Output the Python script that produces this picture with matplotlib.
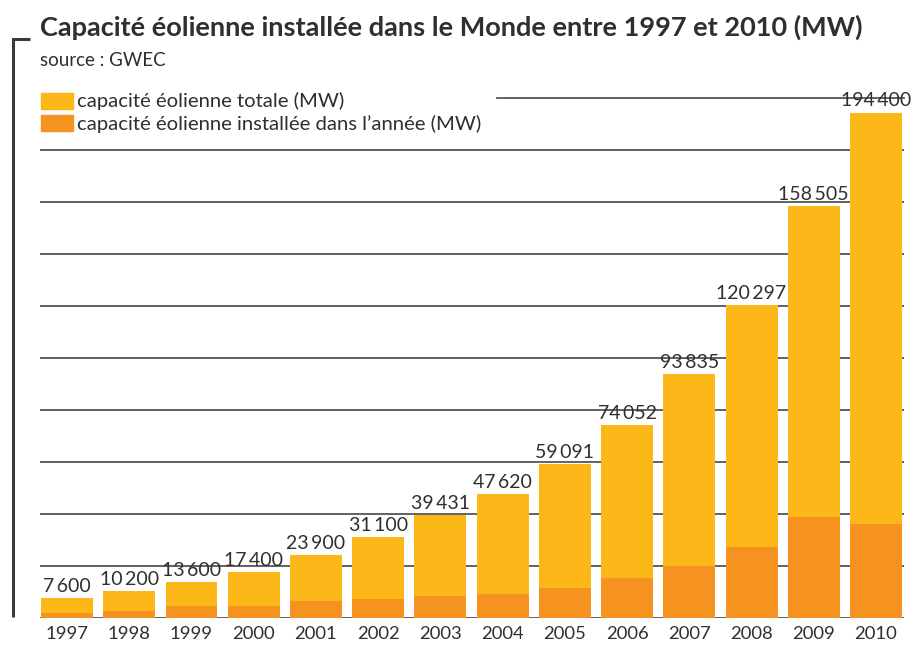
import matplotlib
matplotlib.use("Agg")
import matplotlib.pyplot as plt
from matplotlib.lines import Line2D
from matplotlib.patches import Rectangle

years = ["1997", "1998", "1999", "2000", "2001", "2002", "2003", "2004",
         "2005", "2006", "2007", "2008", "2009", "2010"]
total_mw = [7600, 10200, 13600, 17400, 23900, 31100, 39431, 47620,
            59091, 74052, 93835, 120297, 158505, 194400]
annual_mw = [1800, 2500, 4400, 4400, 6400, 7000, 8300, 8900,
             11500, 15300, 19800, 27000, 38600, 36100]
total_labels = ["7\u2009600", "10\u2009200", "13\u2009600", "17\u2009400", "23\u2009900",
                "31\u2009100", "39\u2009431", "47\u2009620", "59\u2009091", "74\u2009052",
                "93\u2009835", "120\u2009297", "158\u2009505", "194\u2009400"]
grid_levels = [0, 20000, 40000, 60000, 80000, 100000, 120000, 140000, 160000, 180000]
top_level = 200000

title = "Capacité éolienne installée dans le Monde entre 1997 et 2010 (MW)"
source = "source : GWEC"
legend_total = "capacité éolienne totale (MW)"
legend_annual = "capacité éolienne installée dans l\u2019année (MW)"

C_TOTAL = "#FBB818"
C_ANNUAL = "#F6921F"
C_TEXT = "#2f2f2f"
C_GRID = "#555555"

plt.rcParams['font.family'] = ['Lato', 'DejaVu Sans']

W, H = 911, 646
fig = plt.figure(figsize=(W / 100, H / 100), dpi=100)
ax = fig.add_axes([40 / W, 1 - 617.5 / H, (904 - 40) / W, (617.5 - 98) / H])

x = list(range(len(years)))
ax.set_xlim(-0.435, 13.45)
ax.set_ylim(0, top_level)

for g in grid_levels:
    ax.axhline(g, color=C_GRID, lw=1.3, zorder=0)
ax.axhline(top_level, xmin=(497 - 40) / (904 - 40), xmax=1, color=C_GRID, lw=1.3, zorder=0,
           clip_on=False)

ax.bar(x, total_mw, width=0.835, color=C_TOTAL, zorder=2, linewidth=0)
ax.bar(x, annual_mw, width=0.835, color=C_ANNUAL, zorder=3, linewidth=0)

for xi, v, lab in zip(x, total_mw, total_labels):
    ax.text(xi, v + 1200, lab, ha='center', va='bottom', fontsize=14,
            color=C_TEXT, zorder=4, clip_on=False)

ax.set_xticks(x)
ax.set_xticklabels(years, fontsize=13.3, color=C_TEXT)
ax.tick_params(axis='x', length=0, pad=6)
ax.set_yticks([])
for s in ax.spines.values():
    s.set_visible(False)

# title & source
fig.text(40 / W, 1 - 36 / H, title, fontsize=19.5, fontweight='bold', color=C_TEXT,
         ha='left', va='baseline')
fig.text(40 / W, 1 - 66 / H, source, fontsize=13.5, color=C_TEXT, ha='left', va='baseline')

# legend
fig.patches.append(Rectangle((41 / W, 1 - 109 / H), 32 / W, 16 / H, transform=fig.transFigure,
                             color=C_TOTAL, figure=fig))
fig.patches.append(Rectangle((41 / W, 1 - 131 / H), 32 / W, 16 / H, transform=fig.transFigure,
                             color=C_ANNUAL, figure=fig))
fig.text(77 / W, 1 - 101 / H, legend_total, fontsize=14.6, color=C_TEXT, ha='left', va='center')
fig.text(77 / W, 1 - 124 / H, legend_annual, fontsize=14.6, color=C_TEXT, ha='left', va='center')

# left bracket
fig.add_artist(Line2D([12.5 / W, 12.5 / W, 30 / W], [1 - 617 / H, 1 - 39 / H, 1 - 39 / H],
                      transform=fig.transFigure, color="#3a3a3a", lw=2.2,
                      solid_joinstyle='miter', solid_capstyle='butt'))

fig.savefig("out.png", dpi=100)
